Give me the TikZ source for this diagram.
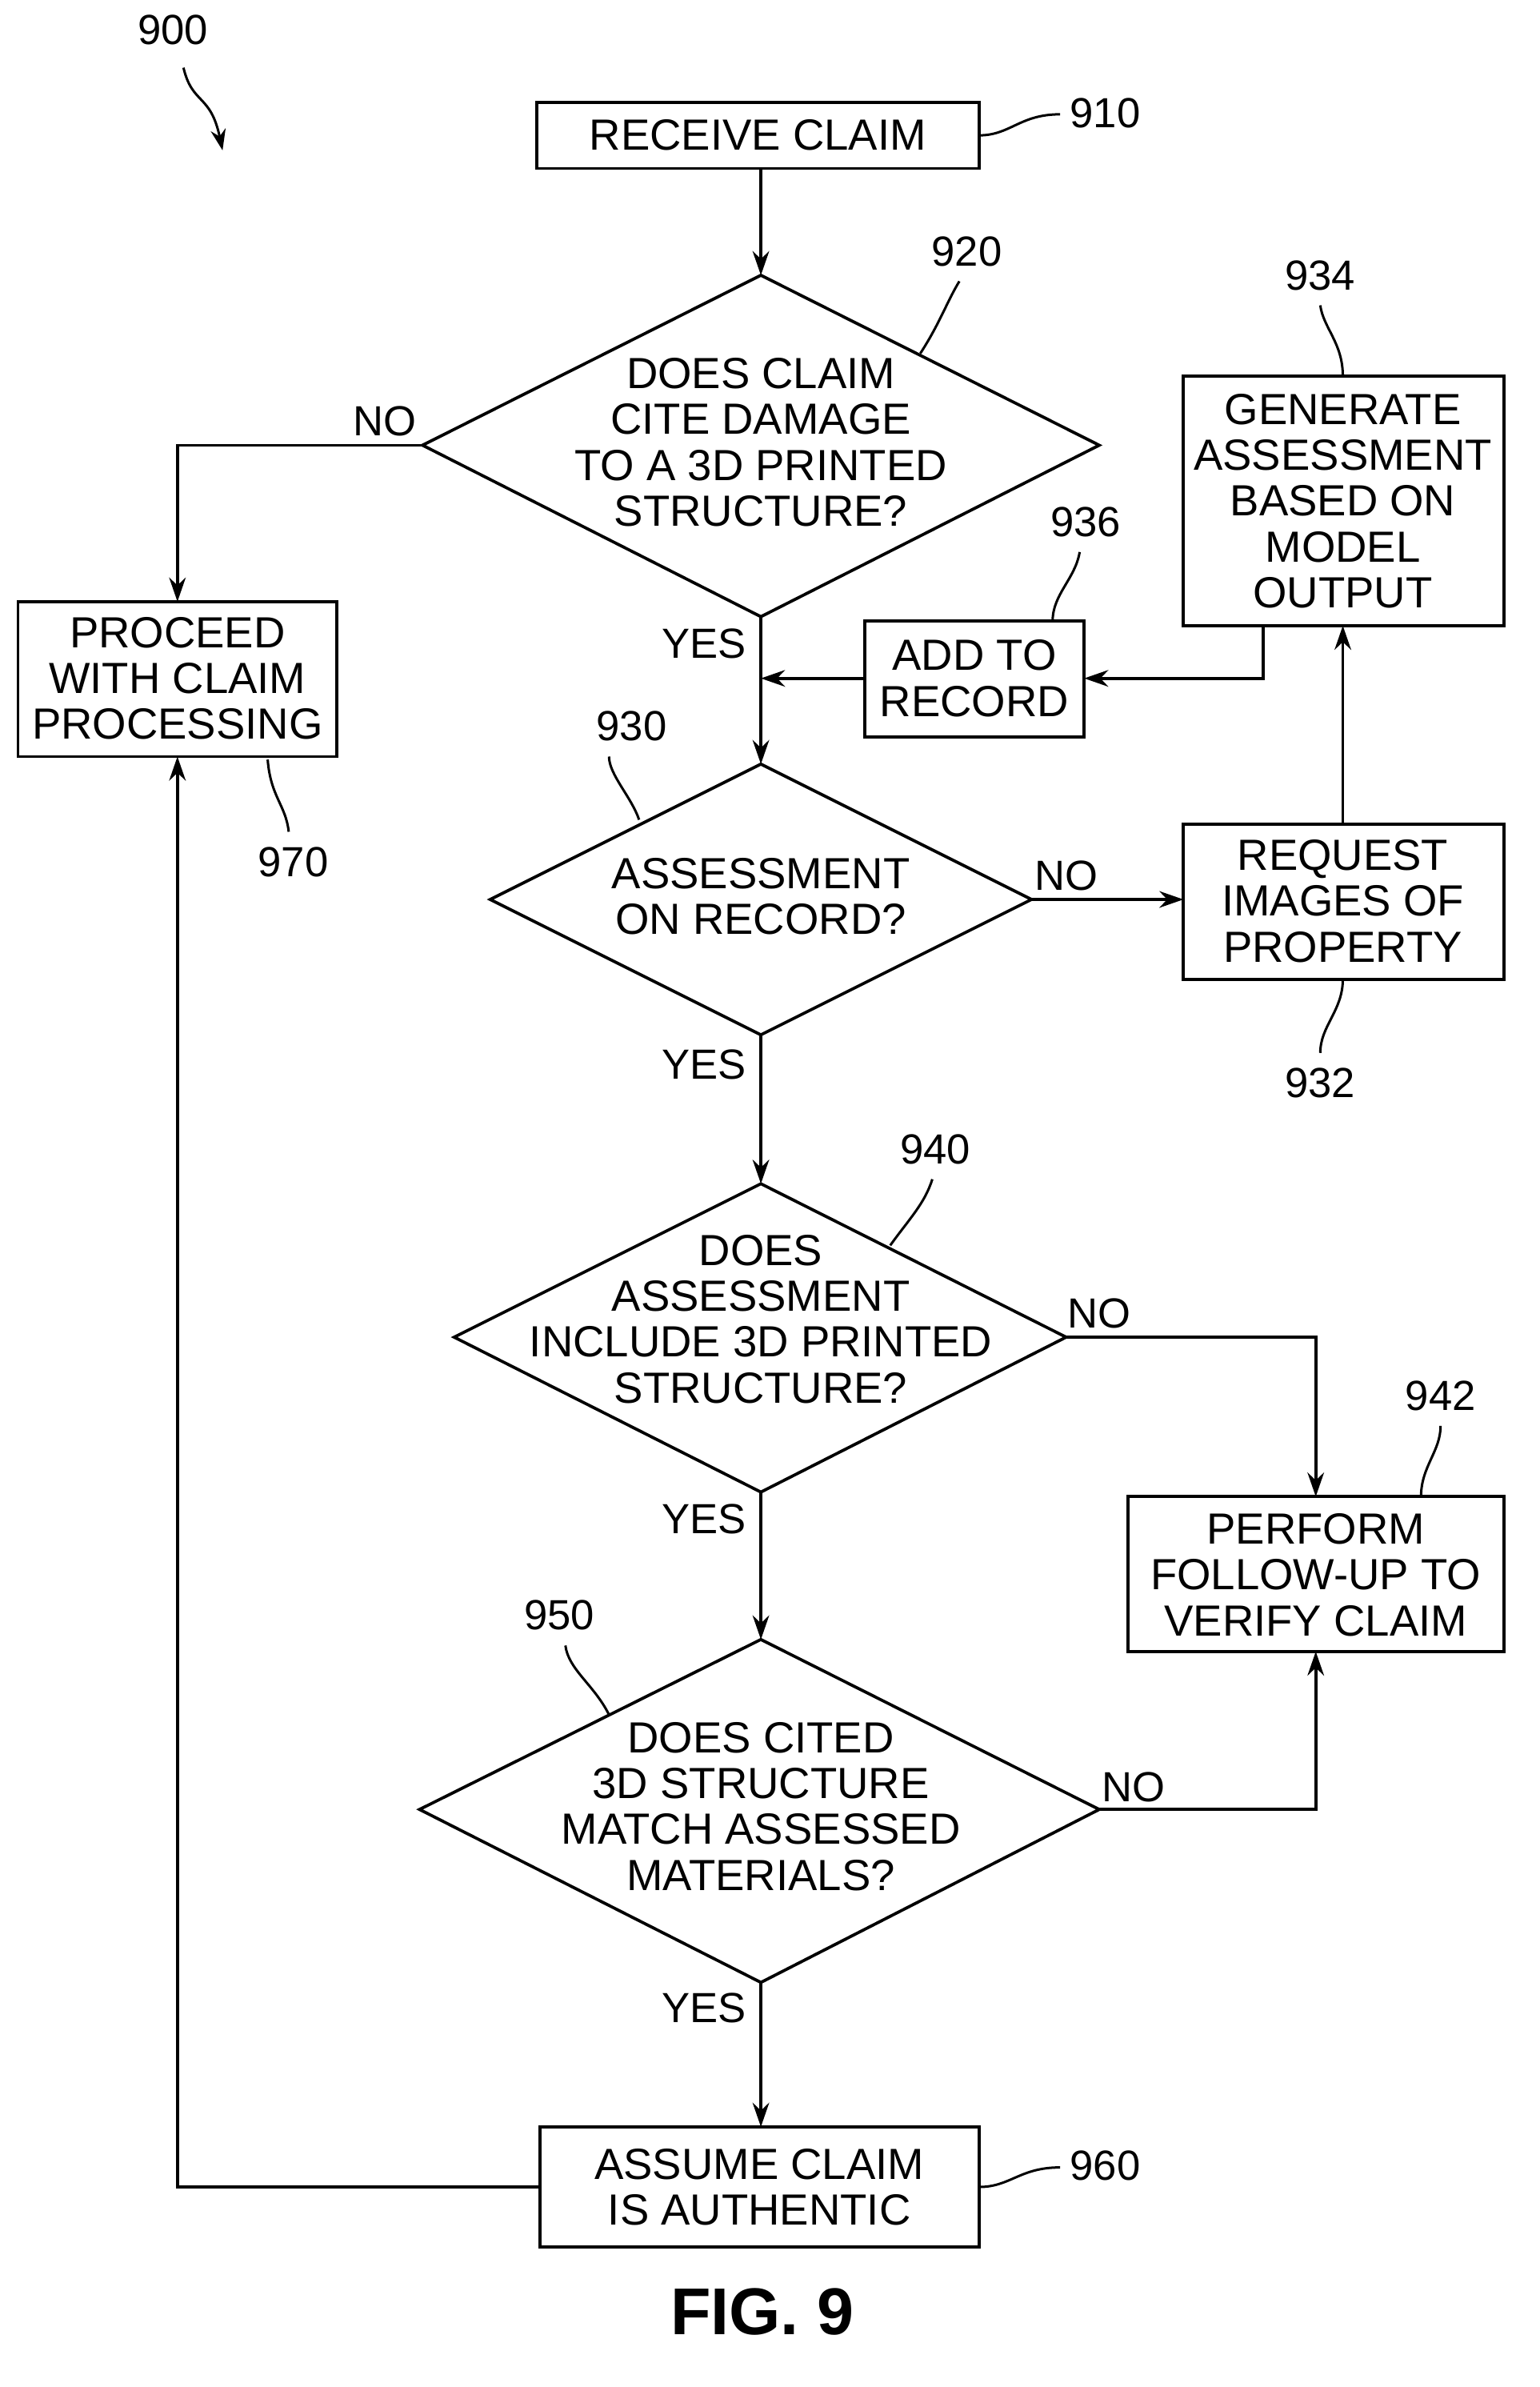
\documentclass[tikz,border=0pt]{standalone}
\usepackage{fontspec}
\setmainfont{Liberation Sans}
\usetikzlibrary{arrows.meta}
\begin{document}
\begin{tikzpicture}[x=1pt,y=-1pt,line width=2pt,
  txt/.style={align=center,font=\fontsize{29}{30.5}\selectfont,inner sep=0pt},
  box/.style={draw,rectangle,line width=2pt},
  lbl/.style={font=\fontsize{28}{30}\selectfont,inner sep=0pt},
  arr/.style={-{Stealth[length=16pt,width=11pt]}},
  lead/.style={line width=1.6pt}]
\useasboundingbox (0,0) rectangle (1024,1587);
% boxes
\draw[box] (357,68) rectangle (651,112); \node[txt] (b910) at (504,90) {RECEIVE CLAIM};
\draw[box] (12,400) rectangle (224,503); \node[txt] (b970) at (118,451) {PROCEED\\WITH CLAIM\\PROCESSING};
\draw[box] (575,413) rectangle (721,490); \node[txt] (b936) at (648,451) {ADD TO\\RECORD};
\draw[box] (787,250) rectangle (1000,416); \node[txt] (b934) at (893,333) {GENERATE\\ASSESSMENT\\BASED ON\\MODEL\\OUTPUT};
\draw[box] (787,548) rectangle (1000,651); \node[txt] (b932) at (893,599) {REQUEST\\IMAGES OF\\PROPERTY};
\draw[box] (750,995) rectangle (1000,1098); \node[txt] (b942) at (875,1047) {PERFORM\\FOLLOW-UP TO\\VERIFY CLAIM};
\draw[box] (359,1414) rectangle (651,1494); \node[txt] (b960) at (505,1454) {ASSUME CLAIM\\IS AUTHENTIC};
% diamonds
\draw (506,183) -- (731,296) -- (506,410) -- (281,296) -- cycle;
\node[txt] (d920) at (506,294) {DOES CLAIM\\CITE DAMAGE\\TO A 3D PRINTED\\STRUCTURE?};
\draw (506,508) -- (686,598) -- (506,688) -- (326,598) -- cycle;
\node[txt] (d930) at (506,596) {ASSESSMENT\\ON RECORD?};
\draw (506,787) -- (709,889) -- (506,992) -- (302,889) -- cycle;
\node[txt] (d940) at (506,877) {DOES\\ASSESSMENT\\INCLUDE 3D PRINTED\\STRUCTURE?};
\draw (506,1090) -- (731,1203) -- (506,1318) -- (279,1203) -- cycle;
\node[txt] (d950) at (506,1201) {DOES CITED\\3D STRUCTURE\\MATCH ASSESSED\\MATERIALS?};
% connectors
\draw[arr] (506,112) -- (506,183);
\draw[arr] (281,296) -- (118,296) -- (118,400);
\draw[arr] (506,410) -- (506,508);
\draw[arr] (840,416) -- (840,451) -- (721,451);
\draw[arr] (575,451) -- (506,451);
\draw[arr] (686,598) -- (787,598);
\draw[arr] (893,548) -- (893,416);
\draw[arr] (506,688) -- (506,787);
\draw[arr] (709,889) -- (875,889) -- (875,995);
\draw[arr] (506,992) -- (506,1090);
\draw[arr] (731,1203) -- (875,1203) -- (875,1098);
\draw[arr] (506,1318) -- (506,1414);
\draw[arr] (359,1454) -- (118,1454) -- (118,503);
% YES/NO
\node[lbl] at (256,280) {NO};
\node[lbl] at (468,428) {YES};
\node[lbl] at (709,582) {NO};
\node[lbl] at (468,708) {YES};
\node[lbl] at (731,873) {NO};
\node[lbl] at (468,1010) {YES};
\node[lbl] at (754,1188) {NO};
\node[lbl] at (468,1335) {YES};
% reference numerals
\node[lbl] at (115,20) {900};
\draw[lead,-{Stealth[length=14pt,width=10pt]}] (122,45) .. controls (128,70) and (140,62) .. (148,100);
\node[lbl] at (735,75) {910};
\draw[lead] (651,90) .. controls (672,90) and (678,76) .. (705,76);
\node[lbl] at (643,167) {920};
\draw[lead] (612,235) .. controls (625,215) and (630,200) .. (638,187);
\node[lbl] at (878,183) {934};
\draw[lead] (893,250) .. controls (893,228) and (880,218) .. (878,203);
\node[lbl] at (722,347) {936};
\draw[lead] (700,413) .. controls (700,395) and (715,385) .. (718,367);
\node[lbl] at (420,483) {930};
\draw[lead] (425,545) .. controls (420,530) and (405,515) .. (405,503);
\node[lbl] at (195,573) {970};
\draw[lead] (178,505) .. controls (180,530) and (190,535) .. (192,553);
\node[lbl] at (878,720) {932};
\draw[lead] (893,651) .. controls (893,672) and (878,682) .. (878,700);
\node[lbl] at (622,764) {940};
\draw[lead] (592,828) .. controls (605,810) and (615,800) .. (620,784);
\node[lbl] at (958,928) {942};
\draw[lead] (945,995) .. controls (945,975) and (958,965) .. (958,948);
\node[lbl] at (372,1074) {950};
\draw[lead] (405,1140) .. controls (395,1120) and (378,1110) .. (376,1094);
\node[lbl] at (735,1440) {960};
\draw[lead] (651,1454) .. controls (672,1454) and (678,1441) .. (705,1441);
\node[font=\bfseries\fontsize{44}{46}\selectfont,inner sep=0pt] at (507,1537) {FIG. 9};
\end{tikzpicture}
\end{document}
